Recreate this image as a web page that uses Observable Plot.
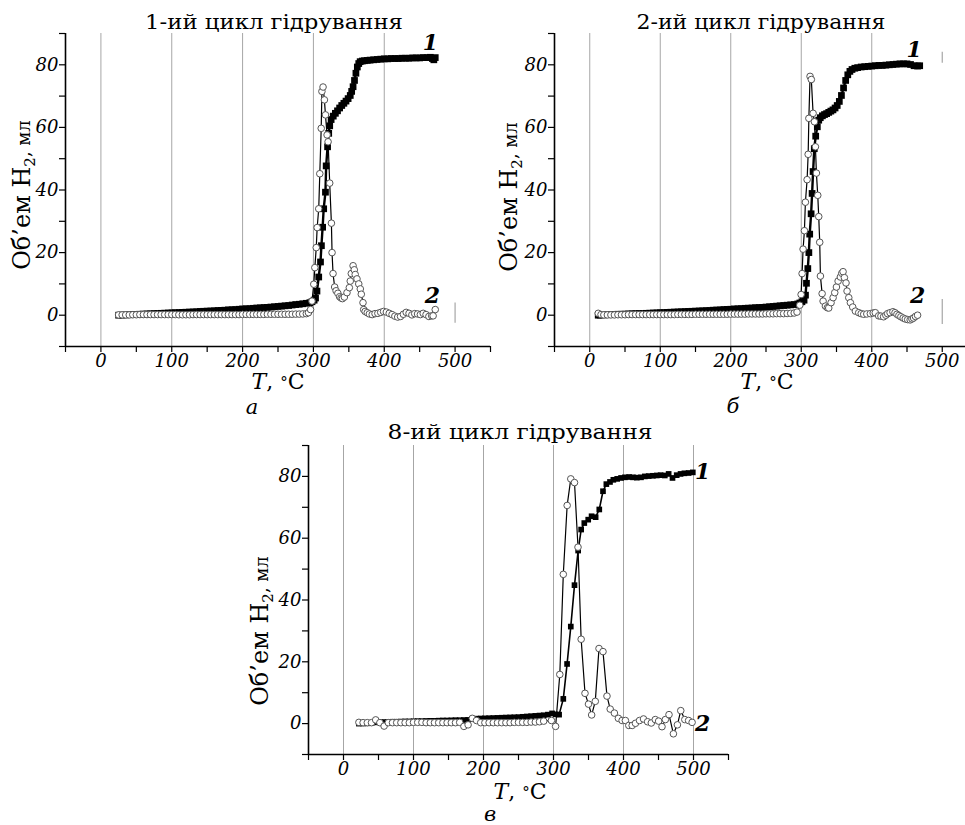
<!DOCTYPE html>
<html><head><meta charset="utf-8">
<script src="https://cdn.jsdelivr.net/npm/d3@7"></script>
<script src="https://cdn.jsdelivr.net/npm/@observablehq/plot@0.6"></script>
<style>
html,body{margin:0;padding:0;background:#fff;overflow:hidden}
#root{position:relative;width:965px;height:825px;overflow:hidden;background:#fff}
</style></head><body><div id="root"></div>
<script>
// ---------- axis ticks ----------
const xTicks = [-50,0,50,100,150,200,250,300,350,400,450,500,550];
const xTickLabels = [0,100,200,300,400,500];
const yTicks = [-10,0,10,20,30,40,50,60,70,80,90];
const yTickLabels = [0,20,40,60,80];
const gridT = [0,100,200,300,400];

// ---------- panel a (1st cycle) ----------
const a1T = [25,30,35,40,45,50,55,60,65,70,75,80,85,90,95,100,105,110,115,120,125,130,135,140,145,150,155,160,165,170,175,180,185,190,195,200,205,210,215,220,225,230,235,240,245,250,255,260,265,270,275,280,285,290,295,
  298,301,303,305,307.5,310,311.3,313,314.5,317,318,320,321.6,323,325,328,331,334,337,340,343,346,349,352,354,356,358,360,362,364,366,369,372,376,380,385,390,395,400,405,410,415,420,425,430,435,440,445,450,455,460,465,468,470,472];
const a1V = [0.0,0.05,0.1,0.15,0.2,0.25,0.3,0.35,0.4,0.45,0.5,0.55,0.6,0.65,0.7,0.75,0.8,0.85,0.9,0.95,1.0,1.05,1.1,1.2,1.25,1.3,1.35,1.4,1.5,1.55,1.6,1.7,1.75,1.8,1.9,2.0,2.05,2.1,2.2,2.3,2.35,2.45,2.5,2.6,2.7,2.8,2.9,3.0,3.1,3.25,3.4,3.5,3.65,3.8,4.0,
  4.3,4.8,5.5,7.7,12.2,17.0,22.2,28.1,34.0,39.3,47.7,53.8,58.1,60.5,62.5,63.6,64.5,65.3,66.2,67.0,67.7,68.4,69.2,70.2,71.5,73.0,75.0,77.3,79.3,80.4,81.0,81.2,81.3,81.4,81.5,81.6,81.7,81.8,81.9,81.9,82.0,82.0,82.0,82.1,82.1,82.1,82.2,82.2,82.2,82.3,82.3,82.4,82.0,81.6,82.3];
const a2T = [25,30,35,40,45,50,55,60,65,70,75,80,85,90,95,100,105,110,115,120,125,130,135,140,145,150,155,160,165,170,175,180,185,190,195,200,205,210,215,220,225,230,235,240,245,250,255,260,265,270,275,280,285,290,
  293,296,298,300.5,302,304,305.3,307.5,309,311,312,313.6,315.5,317,319.3,320.7,323,325.4,326.3,327.7,330,332,334.5,337,339,341,343.7,347.4,350.7,352,353.5,356,357.7,359,361.5,364,366.2,367.6,370,371,373,376,379,383,387,391,395,399,403,407,411,415,419,423,427,431,435,439,443,447,451,455,459,463,467,469,472];
const a2V = [0.1,0.1,0.1,0.1,0.15,0.15,0.2,0.2,0.2,0.2,0.2,0.2,0.2,0.2,0.2,0.2,0.2,0.15,0.15,0.15,0.15,0.2,0.2,0.2,0.2,0.2,0.2,0.2,0.2,0.2,0.2,0.2,0.2,0.2,0.2,0.25,0.25,0.25,0.25,0.25,0.25,0.25,0.3,0.3,0.3,0.3,0.3,0.3,0.3,0.3,0.35,0.35,0.4,0.5,
  0.8,1.8,4.5,9.9,15.2,21.6,28.0,34.0,45.2,59.7,71.5,72.9,68.8,64.0,57.6,55.4,42.2,29.4,20.0,13.3,9.0,7.8,7.0,5.9,5.5,5.3,5.8,7.2,8.8,10.9,13.3,15.8,14.5,13.0,11.6,10.0,8.4,6.7,4.0,1.8,1.2,0.8,0.4,0.2,0.5,0.6,0.9,1.2,1.0,0.6,0.2,-0.3,-0.6,-0.4,0.3,0.9,0.6,0.1,0.5,0.4,0.2,0.6,0.2,-0.4,-0.2,-0.2,1.8];

// ---------- panel b (2nd cycle) ----------
const b1T = [12,15,20,25,30,35,40,45,50,55,60,65,70,75,80,85,90,95,100,105,110,115,120,125,130,135,140,145,150,155,160,165,170,175,180,185,190,195,200,205,210,215,220,225,230,235,240,245,250,255,260,265,270,275,280,285,290,295,
  298,301,304,306,307.4,309.3,310.8,312,314,315.4,316.8,318.5,320.5,322.8,324.8,327,330,333,336,339,342,345,348,351,354,357,360,363,366,369,372,376,380,385,390,395,400,405,410,415,420,425,430,435,440,445,450,455,460,465,468];
const b1V = [0.0,0.05,0.1,0.15,0.2,0.25,0.3,0.3,0.35,0.4,0.45,0.5,0.5,0.55,0.6,0.65,0.7,0.75,0.8,0.85,0.9,0.95,1.0,1.05,1.1,1.15,1.2,1.25,1.3,1.35,1.4,1.45,1.5,1.6,1.65,1.7,1.8,1.85,1.9,2.0,2.05,2.1,2.2,2.25,2.3,2.4,2.45,2.5,2.6,2.7,2.8,2.9,3.0,3.1,3.2,3.3,3.4,3.6,
  3.9,4.3,4.8,6.4,10.2,14.9,20.0,25.9,32.4,38.9,45.9,53.2,57.2,60.2,62.3,63.1,63.7,64.1,64.4,64.8,65.2,65.6,66.2,67.0,68.3,70.2,72.6,75.0,76.8,77.9,78.5,78.9,79.1,79.3,79.4,79.5,79.6,79.7,79.8,79.8,79.9,80.0,80.1,80.2,80.3,80.3,80.3,80.1,79.7,79.6,79.7];
const b2T = [12,16,20,25,30,35,40,45,50,55,60,65,70,75,80,85,90,95,100,105,110,115,120,125,130,135,140,145,150,155,160,165,170,175,180,185,190,195,200,205,210,215,220,225,230,235,240,245,250,255,260,265,270,275,280,285,290,
  294,297.9,299.8,301.2,302.6,304.5,305.9,308.3,309.8,310.8,312.5,314.3,316.8,318.7,320.1,321.5,323.4,324.8,326.2,327.2,329.6,331,334.3,337,339,342.3,345.2,347.5,349.9,352.3,355.5,357.5,359.3,361.2,363.5,365,367.4,369.7,373,376.8,381.5,385,388.6,393,398,402,405,409.8,413,416.8,420,422.5,426,430,433,435.7,438.5,441.3,444.5,447.5,451,454.5,457,459.3,462,465];
const b2V = [0.6,0.2,0.1,0.1,0.1,0.1,0.15,0.15,0.15,0.2,0.2,0.2,0.2,0.2,0.2,0.2,0.2,0.2,0.2,0.2,0.2,0.2,0.2,0.25,0.25,0.25,0.25,0.25,0.3,0.3,0.3,0.3,0.3,0.3,0.3,0.3,0.3,0.3,0.35,0.35,0.35,0.35,0.35,0.4,0.4,0.4,0.4,0.4,0.45,0.45,0.45,0.5,0.5,0.5,0.55,0.6,0.7,
  1.0,3.2,6.6,13.3,21.1,27.0,36.1,43.3,51.4,62.9,76.3,75.3,64.5,61.8,53.8,45.4,38.3,31.5,23.3,12.5,6.9,4.5,2.9,2.4,2.3,4.0,5.6,7.2,9.0,10.9,12.2,13.4,13.9,12.0,10.3,7.7,5.6,4.0,2.6,1.3,0.8,0.5,0.3,0.4,0.5,0.7,0.8,-0.2,-0.3,-0.5,0.0,0.5,0.8,1.1,0.8,0.3,-0.1,-0.5,-0.9,-1.2,-1.4,-1.5,-1.2,-0.9,-0.4,0.0];

// ---------- panel c (8th cycle) ----------
const c1T = [22,28,34,40,46,52,58,64,70,76,82,88,94,100,106,112,118,124,130,136,142,148,154,160,166,172,178,184,190,196,202,208,214,220,226,232,238,244,250,256,262,268,274,280,286,292,
  298,303,308,314,319.4,324.7,330,335.2,339.5,344,349.6,354.4,360.2,365.4,370.7,375.5,380.7,385.5,391,396.5,402,408,413.5,419,425,430.5,436,442,447.5,453,459,464.5,470,476,481.5,487,493,499];
const c1V = [0.0,0.05,0.1,0.15,0.4,0.5,0.5,0.55,0.6,0.6,0.65,0.7,0.7,0.75,0.8,0.8,0.85,0.9,0.9,0.95,1.0,1.0,1.05,1.1,1.1,1.15,1.2,1.5,1.6,1.65,1.7,1.75,1.8,1.85,1.9,1.95,2.0,2.05,2.1,2.2,2.3,2.4,2.5,2.6,2.7,2.9,
  3.3,3.0,2.9,8.0,19.3,31.4,44.8,56.0,62.8,64.9,66.0,67.1,66.8,69.3,75.2,77.5,78.2,78.9,79.2,79.5,79.7,79.8,79.7,79.6,79.7,80.0,80.1,80.2,80.3,80.4,80.3,80.8,79.5,80.4,80.8,81.0,81.1,81.3];
const c2T = [22,28,34,40,46,52,58,64,70,76,82,88,94,100,106,112,118,124,130,136,142,148,154,160,166,172,178,184,190,196,202,208,214,220,226,232,238,244,250,256,262,268,274,280,286,
  297,303,309,314,319.5,324.7,330,335,339.5,345,350,354.5,359.7,365,370.7,376.4,381,387,392.7,398,402.7,407.6,412.4,417.1,422.9,428.6,434.4,439.7,445.4,450.2,455,459.8,465,471.3,477,481.8,487.6,493,498];
const c2V = [0.4,0.3,0.3,0.3,1.2,0.3,-0.8,0.3,0.3,0.3,0.3,0.3,0.3,0.4,0.4,0.4,0.3,0.3,0.3,0.3,0.3,0.3,0.3,0.3,0.4,-0.9,-0.4,1.7,1.0,0.3,0.3,0.3,0.3,0.3,0.3,0.3,0.3,0.4,0.4,0.4,0.4,0.5,0.5,0.6,0.8,
  1.0,-0.9,15.9,48.3,70.6,79.2,78.0,57.1,27.3,9.8,6.3,2.8,7.2,24.3,23.3,8.9,4.7,3.4,1.7,1.0,1.0,-0.6,-0.6,0.1,1.0,1.5,0.6,0.2,1.3,0.8,-1.0,1.3,2.9,-3.3,-0.4,4.2,1.3,1.0,0.4];

const seriesNames = ["1","2"];
const titles = ["1-ий цикл гідрування","2-ий цикл гідрування","8-ий цикл гідрування"];
const panelLetters = ["а","б","в"];

// ---------- drawing ----------
const FONT = '"DejaVu Serif", serif';
function panel(s1T, s1V, s2T, s2V, o) {
  const d1 = s1T.map((t, i) => ({t, v: s1V[i]}));
  const d2 = s2T.map((t, i) => ({t, v: s2V[i]}));
  const svg = Plot.plot({
    width: o.width, height: o.height,
    marginLeft: 65, marginRight: o.mr, marginTop: 33, marginBottom: 34,
    x: {domain: [-50, 550]},
    y: {domain: [-10, 90]},
    style: {fontFamily: FONT, background: "transparent", overflow: "visible", color: "#000"},
    marks: [
      Plot.ruleX(o.grid, {stroke: "#a6a6a6", strokeWidth: 1}),
      ...o.stubs.map(s => Plot.ruleX([500], {y1: s[0], y2: s[1], stroke: "#a6a6a6", strokeWidth: 1.2})),
      Plot.axisX(xTicks, {tickSize: 6, tickPadding: 2, strokeWidth: 1.2, label: null,
        tickFormat: d => xTickLabels.includes(d) ? String(d) : "",
        fontSize: 18, fontStyle: "italic"}),
      Plot.axisY(yTicks, {tickSize: 6, tickPadding: 1, strokeWidth: 1.2, label: null,
        tickFormat: d => yTickLabels.includes(d) ? String(d) : "",
        fontSize: 18, fontStyle: "italic"}),
      Plot.ruleY([-10], {strokeWidth: 1.6}),
      Plot.ruleX([-50], {strokeWidth: 1.6}),
      Plot.line(d1, {x: "t", y: "v", stroke: "#000", strokeWidth: o.lw}),
      Plot.dot(d1, {x: "t", y: "v", symbol: "square", fill: "#000", r: o.sq}),
      Plot.line(d2, {x: "t", y: "v", stroke: "#000", strokeWidth: 1.2}),
      Plot.dot(d2, {x: "t", y: "v", fill: "#fff", stroke: "#555", strokeWidth: 1, r: 3.3}),
      Plot.text([seriesNames[0]], {x: o.lab1[0], y: o.lab1[1], text: d => d, fontSize: 22, fontWeight: "bold", fontStyle: "italic"}),
      Plot.text([seriesNames[1]], {x: o.lab2[0], y: o.lab2[1], text: d => d, fontSize: 22, fontWeight: "bold", fontStyle: "italic"})
    ]
  });
  svg.style.position = "absolute";
  svg.style.left = o.left + "px";
  svg.style.top = o.top + "px";
  document.getElementById("root").appendChild(svg);
}

panel(a1T, a1V, a2T, a2V, {left: 0, top: 0, width: 500, height: 380, mr: 10, sq: 3.8, lw: 2.4,
  grid: gridT, stubs: [[-2.6, 3.9]], lab1: [465, 87], lab2: [468, 6.2]});
panel(b1T, b1V, b2T, b2V, {left: 489, top: 0, width: 488, height: 380, mr: 0, sq: 3.8, lw: 2.4,
  grid: gridT, stubs: [[80.5, 84], [-3, 5]], lab1: [460, 84.6], lab2: [465, 6.2]});
panel(c1T, c1V, c2T, c2V, {left: 243, top: 412, width: 495, height: 376, mr: 10, sq: 3.2, lw: 1.6,
  grid: gridT.concat([500]), stubs: [], lab1: [513, 81.3], lab2: [513, 0]});

// ---------- overlay text ----------
const ov = d3.select("#root").append("svg")
  .attr("width", 965).attr("height", 825)
  .style("position", "absolute").style("left", "0px").style("top", "0px")
  .style("font-family", FONT);

const titlePos = [[274, 29, 258], [761, 29, 249], [520, 439, 265]];
titles.forEach((t, i) => {
  ov.append("text").attr("x", titlePos[i][0]).attr("y", titlePos[i][1])
    .attr("text-anchor", "middle").attr("font-size", 20)
    .attr("textLength", titlePos[i][2]).attr("lengthAdjust", "spacingAndGlyphs")
    .text(t);
});

const ylabPos = [[30, 195], [517, 197], [268, 631]];
ylabPos.forEach(p => {
  const tx = ov.append("text").attr("transform", `translate(${p[0]},${p[1]}) rotate(-90)`)
    .attr("text-anchor", "middle").attr("font-size", 24);
  tx.append("tspan").text("Об’ем H");
  tx.append("tspan").attr("font-size", 15).attr("dy", 5).text("2");
  tx.append("tspan").attr("font-size", 18).attr("dy", -5).text(", мл");
});

const xlabPos = [[278, 389], [767, 389], [520, 799]];
xlabPos.forEach(p => {
  const tx = ov.append("text").attr("x", p[0]).attr("y", p[1])
    .attr("text-anchor", "middle").attr("font-size", 22);
  tx.append("tspan").attr("font-style", "italic").text("T");
  tx.append("tspan").text(", ");
  tx.append("tspan").attr("font-size", 15).attr("dy", -2).text("°");
  tx.append("tspan").attr("dy", 2).text("C");
});

const letterPos = [[252, 414], [733, 413], [490, 821]];
letterPos.forEach((p, i) => {
  ov.append("text").attr("x", p[0]).attr("y", p[1]).attr("text-anchor", "middle")
    .attr("font-size", 21).attr("font-style", "italic").text(panelLetters[i]);
});
</script></body></html>
